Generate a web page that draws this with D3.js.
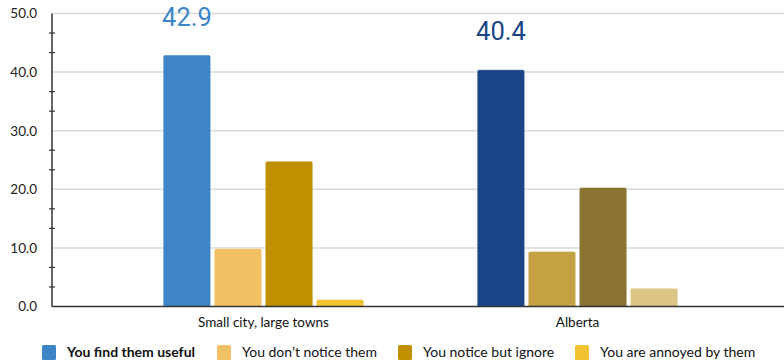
<!DOCTYPE html>
<html>
<head>
<meta charset="utf-8">
<script src="https://cdn.jsdelivr.net/npm/d3@7"></script>
<style>
  html, body { margin: 0; padding: 0; background: #fff; }
  svg { display: block; }
</style>
</head>
<body>
<svg id="chart" width="784" height="361"></svg>
<script>
// Survey responses by region
const categories = ["Small city, large towns", "Alberta"];
const seriesNames = ["You find them useful", "You don\u2019t notice them", "You notice but ignore", "You are annoyed by them"];
const smallCityValues = [42.9, 9.9, 24.8, 1.2];
const albertaValues = [40.4, 9.4, 20.3, 3.1];
const smallCityColors = ["#3d85c6", "#f1c164", "#bf9000", "#f1c232"];
const albertaColors = ["#1c4587", "#c4a243", "#8b7433", "#dcc585"];
const yTicks = [0, 10, 20, 30, 40, 50];

const valuesByCategory = [smallCityValues, albertaValues];
const colorsByCategory = [smallCityColors, albertaColors];

const svg = d3.select("#chart");
const W = 784;
const axisX = 52;

const y = d3.scaleLinear().domain([0, 50]).range([306.5, 13.5]);
const x0 = d3.scaleBand().domain(categories).range([106.5, 734.5]).paddingInner(0).paddingOuter(0);
const x1 = d3.scaleBand().domain(seriesNames).range([0, x0.bandwidth()]).paddingInner(0.07).paddingOuter(1.11);

// Horizontal gridlines
svg.append("g").selectAll("line")
  .data(yTicks.filter(d => d > 0))
  .join("line")
  .attr("x1", axisX).attr("x2", W)
  .attr("y1", d => y(d)).attr("y2", d => y(d))
  .attr("stroke", "#d9d9d9").attr("stroke-width", 1.5);

// Y axis labels
const yAxis = d3.axisLeft(y).tickValues(yTicks).tickFormat(d3.format(".1f")).tickSize(0).tickPadding(15);
const gy = svg.append("g").attr("transform", `translate(${axisX},0)`).call(yAxis);
gy.select(".domain").remove();
gy.selectAll("text")
  .attr("font-family", "Lato, 'Open Sans', sans-serif")
  .attr("font-size", 13.5)
  .attr("fill", "#222");

// Minor ticks between major values
const minor = d3.range(0, 50, 10 / 3).filter((d, i) => i % 3 !== 0);
svg.append("g").selectAll("line")
  .data(minor)
  .join("line")
  .attr("x1", axisX - 3).attr("x2", axisX + 3)
  .attr("y1", d => y(d)).attr("y2", d => y(d))
  .attr("stroke", "#333").attr("stroke-width", 1.2);

// Vertical axis line
svg.append("line")
  .attr("x1", axisX).attr("x2", axisX)
  .attr("y1", y(50)).attr("y2", y(0))
  .attr("stroke", "#333").attr("stroke-width", 1.5);

// Bars with slightly rounded tops
function topRounded(xp, yp, w, h, r) {
  r = Math.min(r, h, w / 2);
  return `M${xp},${yp + h}V${yp + r}Q${xp},${yp} ${xp + r},${yp}H${xp + w - r}Q${xp + w},${yp} ${xp + w},${yp + r}V${yp + h}Z`;
}

const groups = svg.append("g").selectAll("g")
  .data(categories)
  .join("g")
  .attr("transform", d => `translate(${x0(d)},0)`);

groups.selectAll("path")
  .data((c, ci) => seriesNames.map((s, si) => ({ s, v: valuesByCategory[ci][si], color: colorsByCategory[ci][si] })))
  .join("path")
  .attr("d", d => topRounded(x1(d.s), y(d.v), x1.bandwidth(), y(0) - y(d.v), 2))
  .attr("fill", d => d.color)
  .attr("stroke", "#ffffff")
  .attr("stroke-opacity", 0.5)
  .attr("stroke-width", 0.8);

// Value labels on the first series
groups.append("text")
  .attr("x", () => x1(seriesNames[0]) + x1.bandwidth() / 2)
  .attr("y", (c, ci) => y(valuesByCategory[ci][0]) - 29.5)
  .attr("text-anchor", "middle")
  .attr("font-family", "Roboto, sans-serif")
  .attr("font-size", 25.5)
  .attr("fill", (c, ci) => colorsByCategory[ci][0])
  .text((c, ci) => valuesByCategory[ci][0].toFixed(1));

// Baseline
svg.append("line")
  .attr("x1", axisX).attr("x2", W)
  .attr("y1", y(0)).attr("y2", y(0))
  .attr("stroke", "#333").attr("stroke-width", 1.5);

// Category labels
const xAxis = d3.axisBottom(x0).tickSize(0).tickPadding(11);
const gx = svg.append("g").attr("transform", `translate(0,${y(0)})`).call(xAxis);
gx.select(".domain").remove();
gx.selectAll("text")
  .attr("font-family", "Lato, 'Open Sans', sans-serif")
  .attr("font-size", 13.5)
  .attr("fill", "#111");

// Legend
const legendX = [42, 217, 398, 575];
const legend = svg.append("g").selectAll("g")
  .data(seriesNames)
  .join("g")
  .attr("transform", (d, i) => `translate(${legendX[i]},345)`);
legend.append("rect")
  .attr("width", 14).attr("height", 15).attr("rx", 1.5)
  .attr("fill", (d, i) => smallCityColors[i]);
legend.append("text")
  .attr("x", 25).attr("y", 12)
  .attr("font-family", "Lato, 'Open Sans', sans-serif")
  .attr("font-size", 14)
  .attr("font-weight", (d, i) => i === 0 ? "bold" : "normal")
  .attr("fill", "#111")
  .text(d => d);
</script>
</body>
</html>
